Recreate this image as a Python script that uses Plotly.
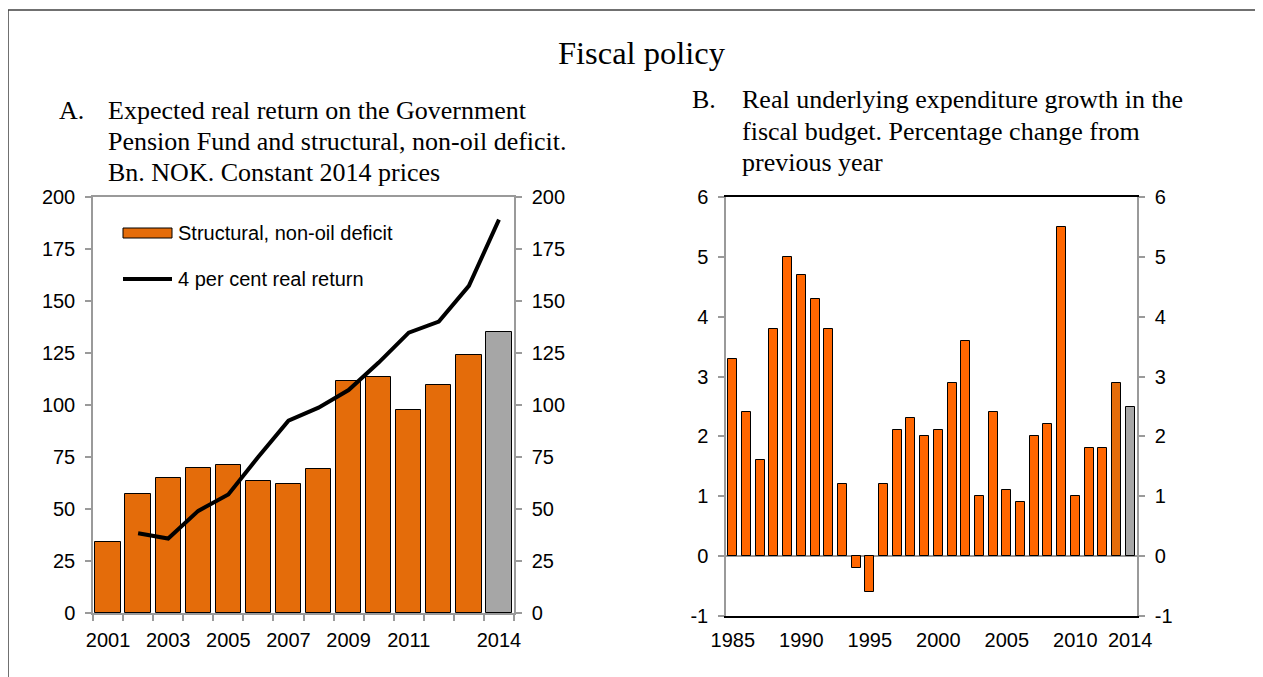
import plotly.graph_objects as go

# ---------------- data ----------------
years_a = [2001, 2002, 2003, 2004, 2005, 2006, 2007, 2008, 2009, 2010, 2011, 2012, 2013, 2014]
deficit = [34, 57, 65, 69.5, 71, 63.5, 62, 69, 111.5, 113.5, 97.5, 109.5, 124, 135]
ret_years = [2002, 2003, 2004, 2005, 2006, 2007, 2008, 2009, 2010, 2011, 2012, 2013, 2014]
real_return = [38.3, 35.8, 49.1, 57, 75.1, 92.5, 98.7, 107.2, 120.4, 134.8, 140.1, 157.3, 189.1]
ticks_a = [2001, 2003, 2005, 2007, 2009, 2011, 2014]
yticks_a = [0, 25, 50, 75, 100, 125, 150, 175, 200]

years_b = list(range(1985, 2015))
growth = [3.3, 2.4, 1.6, 3.8, 5.0, 4.7, 4.3, 3.8, 1.2, -0.2, -0.6, 1.2, 2.1, 2.3, 2.0,
          2.1, 2.9, 3.6, 1.0, 2.4, 1.1, 0.9, 2.0, 2.2, 5.5, 1.0, 1.8, 1.8, 2.9, 2.5]
ticks_b = [1985, 1990, 1995, 2000, 2005, 2010, 2014]
yticks_b = [-1, 0, 1, 2, 3, 4, 5, 6]
yticklabels_b = ["-1", "0", "1", "2", "3", "4", "5", "6"]

W, H = 1263, 677
OFF = 8  # page body margin offset
def px(x): return (x - OFF) / W
def py(y): return 1 - (y - OFF) / H

ORANGE_A = "#E46C0A"
ORANGE_B = "#FF6600"
GREY_BAR = "#A6A6A6"
AXIS_GREY = "#9A9A9A"
SANS = "Liberation Sans, Arial, sans-serif"
SERIF = "Liberation Serif, Times New Roman, serif"

colors_a = [ORANGE_A] * (len(years_a) - 1) + [GREY_BAR]
colors_b = [ORANGE_B] * (len(years_b) - 2) + [ORANGE_A, GREY_BAR]

fig = go.Figure()
fig.add_trace(go.Bar(x=years_a, y=deficit, width=0.84, marker=dict(color=colors_a, line=dict(color="black", width=1)),
                     xaxis="x", yaxis="y", showlegend=False))
fig.add_trace(go.Scatter(x=ret_years, y=real_return, mode="lines", line=dict(color="black", width=4),
                         xaxis="x", yaxis="y", showlegend=False))
fig.add_trace(go.Bar(x=years_b, y=growth, width=0.66, marker=dict(color=colors_b, line=dict(color="black", width=1)),
                     xaxis="x3", yaxis="y3", showlegend=False))
# invisible traces to activate right-hand axes
fig.add_trace(go.Scatter(x=[2001], y=[0], xaxis="x", yaxis="y2", mode="markers", marker=dict(opacity=0), showlegend=False, hoverinfo="skip"))
fig.add_trace(go.Scatter(x=[1985], y=[0], xaxis="x3", yaxis="y4", mode="markers", marker=dict(opacity=0), showlegend=False, hoverinfo="skip"))

tickfont = dict(family=SANS, size=20, color="black")
yA = dict(domain=[py(613), py(197)], range=[0, 200], tickvals=yticks_a, showgrid=False, zeroline=False,
          showline=True, linecolor=AXIS_GREY, linewidth=1.5, ticks="outside", ticklen=6, tickcolor=AXIS_GREY,
          tickwidth=1.5, tickfont=tickfont, ticklabelstandoff=6, automargin=False)
yB = dict(domain=[py(616), py(197)], range=[-1, 6], tickvals=yticks_b, ticktext=yticklabels_b, showgrid=False, zeroline=True,
          zerolinecolor=AXIS_GREY, zerolinewidth=1.5,
          showline=True, linecolor=AXIS_GREY, linewidth=1.5, ticks="outside", ticklen=6, tickcolor=AXIS_GREY,
          tickwidth=1.5, tickfont=tickfont, ticklabelstandoff=6, automargin=False)

fig.update_layout(
    width=W, height=H, margin=dict(l=0, r=0, t=0, b=0, autoexpand=False),
    paper_bgcolor="white", plot_bgcolor="white", bargap=0,
    xaxis=dict(domain=[px(93), px(514)], range=[2000.5, 2014.5], tickvals=ticks_a, ticks="outside", ticklen=0,
               showgrid=False, zeroline=False, showline=True, mirror=True, linecolor=AXIS_GREY, linewidth=1.5,
               tickfont=tickfont, ticklabelstandoff=8, automargin=False,
               minor=dict(tick0=2000.5, dtick=1, ticks="outside", ticklen=6, tickcolor=AXIS_GREY, tickwidth=1.5, showgrid=False)),
    yaxis=dict(anchor="x", **yA),
    yaxis2=dict(anchor="x", overlaying="y", side="right", **yA),
    xaxis3=dict(domain=[px(726), px(1137)], range=[1984.5, 2014.5], tickvals=ticks_b, ticks="", anchor="y3",
                showgrid=False, zeroline=False, showline=True, mirror=True, linecolor="black", linewidth=1.5,
                tickfont=tickfont, ticklabelstandoff=5, automargin=False),
    yaxis3=dict(anchor="x3", **yB),
    yaxis4=dict(anchor="x3", overlaying="y3", side="right", **yB),
)

ann = []
def text(x, y, s, size, font=SERIF, xanchor="left"):
    ann.append(dict(x=px(x), y=py(y), xref="paper", yref="paper", text=s, showarrow=False,
                    xanchor=xanchor, yanchor="middle", font=dict(family=font, size=size, color="black")))

text(642, 53, "Fiscal policy", 32.5, xanchor="center")
text(57, 111, "A.", 26)
text(106, 111, "Expected real return on the Government", 26)
text(106, 142, "Pension Fund and structural, non-oil deficit.", 26)
text(106, 173, "Bn. NOK. Constant 2014 prices", 26)
text(690, 100, "B.", 26)
text(740, 100, "Real underlying expenditure growth in the", 26)
text(740, 131, "fiscal budget. Percentage change from", 26)
text(740, 162, "previous year", 26)
text(176, 233, "Structural, non-oil deficit", 20, font=SANS)
text(176, 279, "4 per cent real return", 20, font=SANS)
fig.update_layout(annotations=ann)

shapes = [
    dict(type="rect", xref="paper", yref="paper", x0=px(123), x1=px(172), y0=py(238), y1=py(228),
         fillcolor=ORANGE_A, line=dict(color="black", width=1)),
    dict(type="line", xref="paper", yref="paper", x0=px(123), x1=px(172), y0=py(279), y1=py(279),
         line=dict(color="black", width=4)),
    dict(type="line", xref="paper", yref="paper", x0=px(8), x1=1, y0=py(10), y1=py(10),
         line=dict(color="#404040", width=1.5)),
    dict(type="line", xref="paper", yref="paper", x0=px(8), x1=px(8), y0=py(10), y1=0,
         line=dict(color="#404040", width=1.5)),
]
fig.update_layout(shapes=shapes)

fig.write_html("out.html")
